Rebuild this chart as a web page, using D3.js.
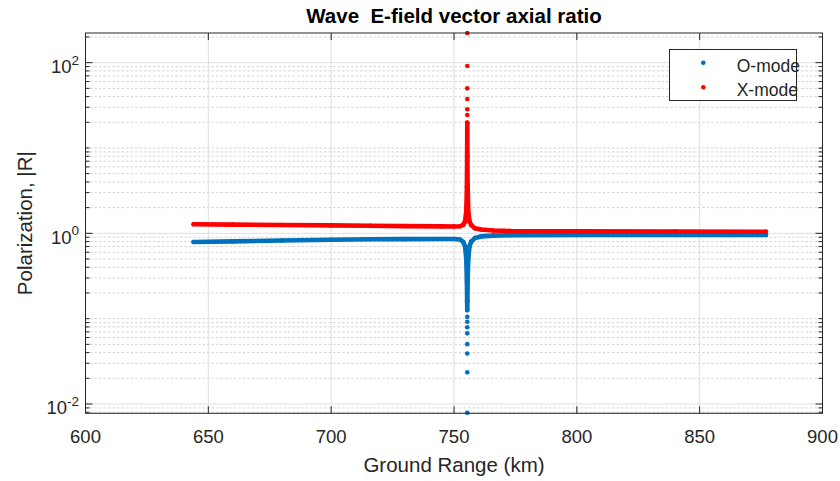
<!DOCTYPE html>
<html>
<head>
<meta charset="utf-8">
<script src="https://cdn.jsdelivr.net/npm/d3@7"></script>
<style>
  body { margin: 0; background: #fff; }
  svg { display: block; font-family: "Liberation Sans", Arial, Helvetica, sans-serif; }
</style>
</head>
<body>
<svg id="chart" width="840" height="481"></svg>
<script>
// ground range (km) and |R|
var oCurveKm = [644, 660, 680, 700, 716, 730, 745, 750, 752.5, 753.8, 754.5, 755.0, 755.25, 755.35, 755.4, 755.45, 755.55, 755.8, 756.3, 757, 758.5, 761, 766, 773, 800, 840, 877];
var oCurveR  = [0.79, 0.805, 0.825, 0.84, 0.851, 0.855, 0.858, 0.858, 0.845, 0.79, 0.7, 0.5, 0.27, 0.16, 0.126, 0.16, 0.27, 0.5, 0.7, 0.8, 0.88, 0.92, 0.94, 0.95, 0.955, 0.955, 0.955];
var oSpikeKm = [755.4, 755.4, 755.4, 755.4, 755.4, 755.4, 755.4, 755.4];
var oSpikeR  = [0.0079, 0.0235, 0.039, 0.0503, 0.0673, 0.0794, 0.092, 0.105];

var xCurveKm = [644, 660, 680, 700, 716, 730, 745, 750, 752.5, 753.8, 754.5, 755.0, 755.25, 755.35, 755.4, 755.45, 755.55, 755.8, 756.3, 757, 758.5, 761, 766, 773, 800, 840, 877];
var xCurveR  = [1.275, 1.265, 1.25, 1.238, 1.228, 1.215, 1.205, 1.2, 1.21, 1.26, 1.38, 1.8, 3.5, 8, 19.8, 8, 3.5, 1.8, 1.38, 1.25, 1.145, 1.11, 1.08, 1.065, 1.055, 1.05, 1.044];
var xSpikeKm = [755.4, 755.4, 755.4, 755.4, 755.4, 755.4, 755.4];
var xSpikeR  = [223, 91.5, 50, 37.5, 28.4, 24.4, 19.8];

var xTicks = [600, 650, 700, 750, 800, 850, 900];
var yTickExp = [-2, 0, 2];
var seriesNames = ["O-mode", "X-mode"];
var seriesColors = ["#0072BD", "#FF0000"];

var W = 840, H = 481;
var pL = 85.5, pR = 822.5, pT = 33, pB = 413.3;
var axisColor = "#262626";

var svg = d3.select("#chart");

var x = d3.scaleLinear().domain([600, 900]).range([pL, pR]);
var y = d3.scaleLog().domain([0.00778, 222.6]).range([pB, pT]);

// minor values on log axis
var minorVals = [];
for (var k = -3; k <= 2; k++) {
    for (var m = 1; m <= 9; m++) {
        var v = m * Math.pow(10, k);
        if (v >= y.domain()[0] && v <= y.domain()[1] && !(m == 1 && yTickExp.indexOf(k) >= 0)) minorVals.push(v);
    }
}

var grid = svg.append("g");
grid.selectAll(".minor")
    .data(minorVals)
    .enter().append("line")
    .attr("x1", pL).attr("x2", pR)
    .attr("y1", d => y(d)).attr("y2", d => y(d))
    .attr("stroke", "#d4d4d4")
    .attr("stroke-dasharray", "2.5,2")
    .attr("stroke-width", 1);

grid.selectAll(".vmajor")
    .data(xTicks)
    .enter().append("line")
    .attr("x1", d => x(d)).attr("x2", d => x(d))
    .attr("y1", pT).attr("y2", pB)
    .attr("stroke", "#dfdfdf")
    .attr("stroke-width", 1);

grid.selectAll(".hmajor")
    .data(yTickExp)
    .enter().append("line")
    .attr("x1", pL).attr("x2", pR)
    .attr("y1", d => y(Math.pow(10, d))).attr("y2", d => y(Math.pow(10, d)))
    .attr("stroke", "#dfdfdf")
    .attr("stroke-width", 1);

// data
var line = d3.line()
    .x(d => x(d[0]))
    .y(d => y(d[1]));

function drawSeries(km, r, skm, sr, color) {
    var pts = km.map((d, i) => [d, r[i]]);
    var dots = skm.map((d, i) => [d, sr[i]]);
    var g = svg.append("g");
    g.append("path")
        .datum(pts)
        .attr("d", line)
        .attr("fill", "none")
        .attr("stroke", color)
        .attr("stroke-width", 4.6)
        .attr("stroke-linejoin", "round")
        .attr("stroke-linecap", "round");
    g.selectAll("circle")
        .data(pts.concat(dots))
        .enter().append("circle")
        .attr("cx", d => x(d[0]))
        .attr("cy", d => y(d[1]))
        .attr("r", 2.3)
        .attr("fill", color);
}
drawSeries(oCurveKm, oCurveR, oSpikeKm, oSpikeR, seriesColors[0]);
drawSeries(xCurveKm, xCurveR, xSpikeKm, xSpikeR, seriesColors[1]);

// box and ticks
var ax = svg.append("g").attr("stroke", axisColor).attr("stroke-width", 1);
ax.append("rect")
    .attr("x", pL).attr("y", pT)
    .attr("width", pR - pL).attr("height", pB - pT)
    .attr("fill", "none");

xTicks.forEach(function (t) {
    ax.append("line").attr("x1", x(t)).attr("x2", x(t)).attr("y1", pB).attr("y2", pB - 7);
    ax.append("line").attr("x1", x(t)).attr("x2", x(t)).attr("y1", pT).attr("y2", pT + 7);
});
minorVals.forEach(function (v) {
    ax.append("line").attr("x1", pL).attr("x2", pL + 4).attr("y1", y(v)).attr("y2", y(v));
    ax.append("line").attr("x1", pR).attr("x2", pR - 4).attr("y1", y(v)).attr("y2", y(v));
});
yTickExp.forEach(function (e) {
    var yy = y(Math.pow(10, e));
    ax.append("line").attr("x1", pL).attr("x2", pL + 7).attr("y1", yy).attr("y2", yy);
    ax.append("line").attr("x1", pR).attr("x2", pR - 7).attr("y1", yy).attr("y2", yy);
});

// tick labels
svg.append("g").selectAll("text")
    .data(xTicks)
    .enter().append("text")
    .attr("x", d => x(d))
    .attr("y", 443)
    .attr("text-anchor", "middle")
    .attr("font-size", 18.5)
    .attr("fill", axisColor)
    .text(d => d);

var yl = svg.append("g").selectAll("text")
    .data(yTickExp)
    .enter().append("text")
    .attr("x", 79)
    .attr("y", d => y(Math.pow(10, d)) + 10.5)
    .attr("text-anchor", "end")
    .attr("font-size", 18.5)
    .attr("fill", axisColor);
yl.append("tspan").text("10");
yl.append("tspan").attr("dy", -8.5).attr("font-size", 13.5).text(d => d);

// labels
svg.append("text")
    .attr("x", (pL + pR) / 2).attr("y", 471.5)
    .attr("text-anchor", "middle")
    .attr("font-size", 20.5)
    .attr("fill", axisColor)
    .text("Ground Range (km)");

svg.append("text")
    .attr("transform", "translate(32," + ((pT + pB) / 2) + ") rotate(-90)")
    .attr("text-anchor", "middle")
    .attr("font-size", 20.5)
    .attr("fill", axisColor)
    .text("Polarization, |R|");

svg.append("text")
    .attr("x", (pL + pR) / 2).attr("y", 23.3)
    .attr("text-anchor", "middle")
    .attr("font-size", 20.5)
    .attr("font-weight", "bold")
    .attr("fill", "#000")
    .style("white-space", "pre")
    .text("Wave  E-field vector axial ratio");

// legend
var lg = svg.append("g");
lg.append("rect")
    .attr("x", 669.5).attr("y", 49.5)
    .attr("width", 127).attr("height", 51)
    .attr("fill", "#fff")
    .attr("stroke", axisColor)
    .attr("stroke-width", 1);
seriesNames.forEach(function (n, i) {
    var cy = 62.7 + i * 24.6;
    lg.append("circle").attr("cx", 703.3).attr("cy", cy).attr("r", 2.3).attr("fill", seriesColors[i]);
    lg.append("text")
        .attr("x", 736.7).attr("y", cy + 9)
        .attr("font-size", 17.5)
        .attr("fill", axisColor)
        .text(n);
});
</script>
</body>
</html>
